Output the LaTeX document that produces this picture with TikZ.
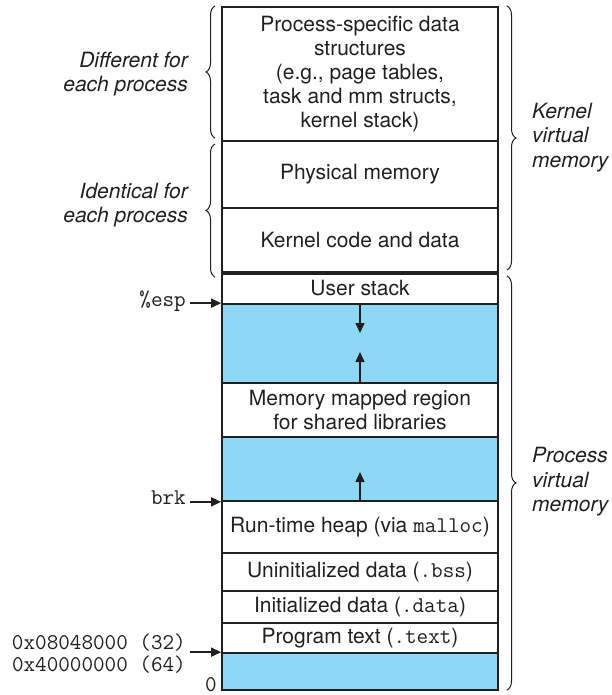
\documentclass[tikz,border=0pt]{standalone}
\usepackage{fontspec}
\setmainfont{TeX Gyre Heros}
\usetikzlibrary{arrows.meta,decorations.pathreplacing}
\definecolor{ink}{HTML}{231F20}
\definecolor{gapblue}{HTML}{8ED8F6}
\newcommand\mycode[1]{{\fontsize{22.5}{24}\selectfont\ttfamily #1}}
\begin{document}
\begin{tikzpicture}[x=1pt,y=-1pt,
  region/.style={draw=ink, line width=1.7pt, minimum width=276pt, inner sep=0pt, align=center, font=\fontsize{21}{24}\selectfont, text=ink},
  gap/.style={region, fill=gapblue},
  lab/.style={font=\fontsize{21}{24.5}\selectfont\itshape, text=ink, inner sep=0pt},
  addr/.style={font=\fontsize{22.5}{22}\selectfont\ttfamily, text=ink, inner sep=0pt},
  ptr/.style={draw=ink, line width=1.5pt, -{Triangle[length=10pt,width=9pt]}},
  brc/.style={draw=ink, line width=1pt, decorate, decoration={brace, amplitude=9pt}}
]
\useasboundingbox (0,0) rectangle (612,695);

% regions
\node[region, minimum height=134pt] (ps) at (360,74) {Process-specific data\\structures\\(e.g., page tables,\\task and mm structs,\\kernel stack)};
\node[region, minimum height=67pt] (phys) at (360,174.5) {Physical memory};
\node[region, minimum height=64pt] (kcode) at (360,240) {Kernel code and data};
\node[region, minimum height=32pt] (ustack) at (360,288) {User stack};
\node[gap, minimum height=79pt] (gap1) at (360,343.5) {};
\node[region, minimum height=54pt] (mmap) at (360,410) {Memory mapped region\\for shared libraries};
\node[gap, minimum height=64pt] (gap2) at (360,469) {};
\node[region, minimum height=52pt] (heap) at (360,527) {Run-time heap (via \mycode{malloc})};
\node[region, minimum height=38pt] (bss) at (360,572) {Uninitialized data (\mycode{.bss})};
\node[region, minimum height=32pt] (data) at (360,607) {Initialized data (\mycode{.data})};
\node[region, minimum height=30pt] (text) at (360,638) {Program text (\mycode{.text})};
\node[gap, minimum height=37pt] (gap3) at (360,671.5) {};

\draw[ink, line width=4pt] (kcode.south west) -- (kcode.south east);

% growth arrows
\coordinate (stk) at (360,333);
\coordinate (mm) at (360,352);
\coordinate (hp) at (360,472);
\draw[ptr] (gap1.north) -- (stk);
\draw[ptr] (gap1.south) -- (mm);
\draw[ptr] (gap2.south) -- (hp);

% braces
\draw[brc] (215,138) -- (215,6);
\draw[brc] (215,277) -- (215,144);
\draw[brc] (507,6) -- (507,270);
\draw[brc] (507,276) -- (507,690);

% side labels
\node[lab, anchor=east, align=right] (diff) at (188,74) {Different for\\each process};
\node[lab, anchor=east, align=right] (ident) at (188,205) {Identical for\\each process};
\node[lab, anchor=west, align=left] (kvm) at (532,137.5) {Kernel\\virtual\\memory};
\node[lab, anchor=west, align=left] (pvm) at (532,482) {Process\\virtual\\memory};

% pointers
\node[addr, anchor=east] (esp) at (186,301) {\%esp};
\draw[ptr, shorten <=4pt] (esp.east |- gap1.north west) -- (gap1.north west);
\node[addr, anchor=east] (brk) at (186,498) {brk};
\draw[ptr, shorten <=4pt] (brk.east |- gap2.south west) -- (gap2.south west);
\node[addr, anchor=east, align=right] (start) at (186,654) {0x08048000 (32)\\0x40000000 (64)};
\draw[ptr, shorten <=4pt] (start.east |- gap3.north west) -- (gap3.north west);
\node[addr, anchor=south] (zero) at (211,692) {0};
\end{tikzpicture}
\end{document}
